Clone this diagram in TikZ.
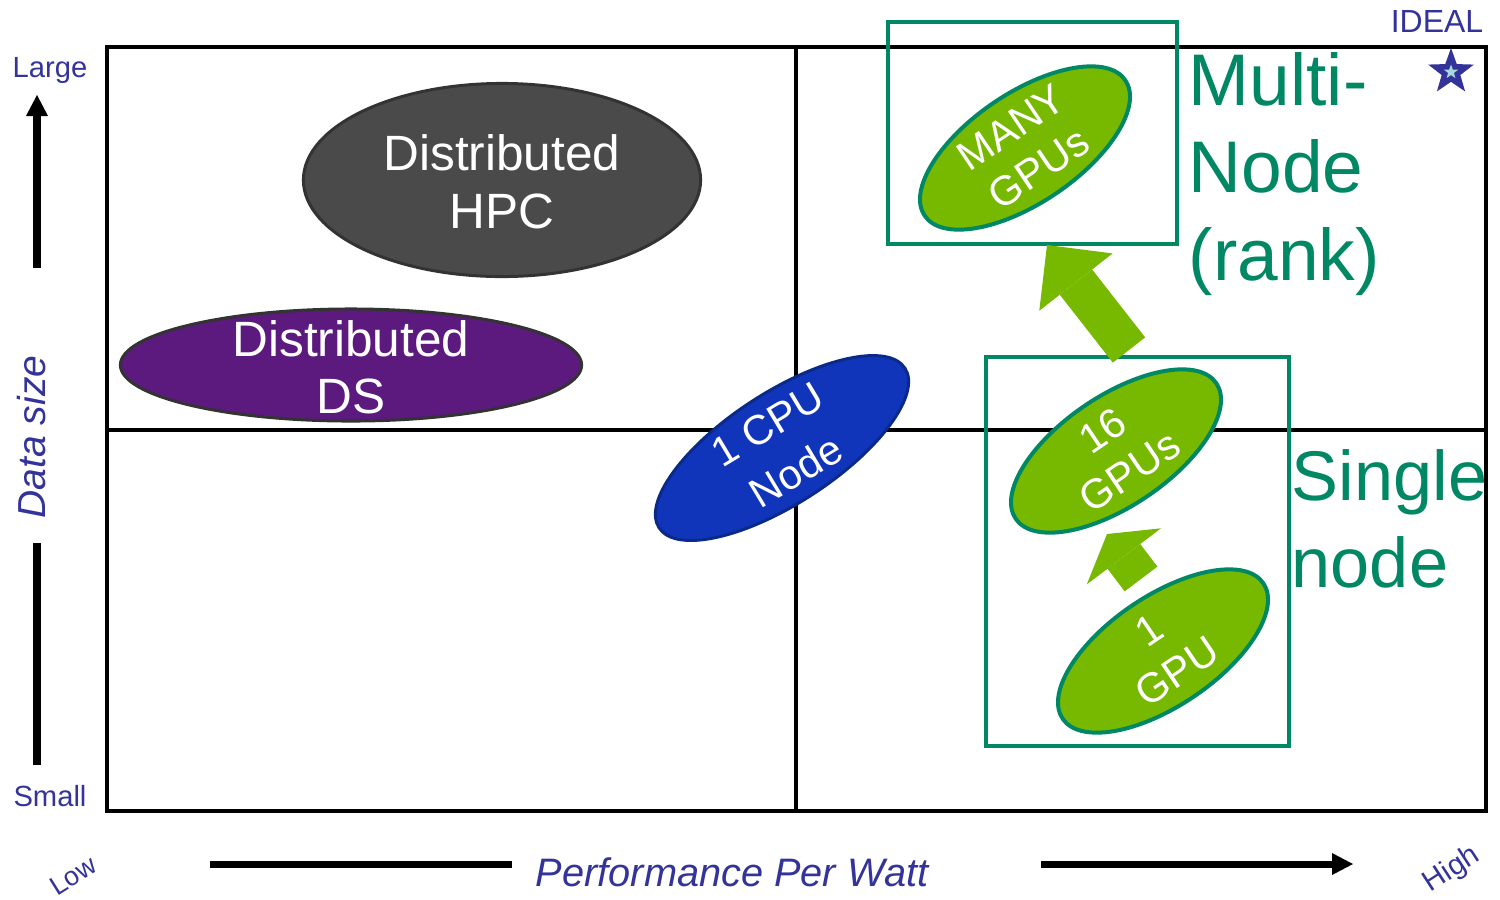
\documentclass[tikz,border=0pt]{standalone}
\usepackage{fontspec}
\setmainfont{Liberation Sans}
\usepackage{xcolor}
\usepackage{tikz}
\usetikzlibrary{arrows.meta, shapes.geometric, positioning}

\definecolor{axisblue}{HTML}{333399}
\definecolor{nvteal}{HTML}{008764}
\definecolor{nvgreen}{HTML}{76B900}
\definecolor{hpcgray}{HTML}{4A4A4A}
\definecolor{blobedge}{HTML}{333333}
\definecolor{dspurple}{HTML}{5C1A7E}
\definecolor{cpublue}{HTML}{1035BB}
\definecolor{cpuedge}{HTML}{0A2A8A}
\definecolor{starcore}{HTML}{A8D8DC}

\begin{document}
\begin{tikzpicture}[
  x=0.01cm, y=-0.01cm,
  frame/.style={line width=0.04cm},
  axarrow/.style={line width=0.07cm, -{Triangle[width=0.22cm, length=0.21cm, line width=0pt]}},
  axlbl/.style={text=axisblue, inner sep=0pt},
  blob/.style={ellipse, draw, line width=0.03cm, inner sep=0pt},
  blobtxt/.style={text=white, align=center, inner sep=0pt},
  gpu/.style={blob, fill=nvgreen, draw=nvteal, line width=0.04cm,
              minimum width=2.42cm, minimum height=1.1cm, rotate=34},
  grp/.style={draw=nvteal, line width=0.035cm, inner sep=0pt},
  bigtxt/.style={text=nvteal, align=left, inner sep=0pt, anchor=west},
  fat/.style={draw=nvgreen, line width=0.41cm},
  pentstar/.style={star, star points=5, star point ratio=2.45, inner sep=0pt}
]
\useasboundingbox (0,0) rectangle (1500,899);

\draw[frame] (107,47) rectangle (1486,811);
\draw[frame] (796,47) -- (796,811);
\draw[frame] (107,430) -- (1486,430);

\node[axlbl, font=\fontsize{8.3}{10}\selectfont] (large) at (50,70) {Large};
\node[axlbl, font=\fontsize{8.3}{10}\selectfont] (small) at (50,796) {Small};
\node[axlbl, font=\fontsize{11.1}{13}\selectfont\itshape, rotate=90] (datasize) at (32,437) {Data size};
\node[axlbl, font=\fontsize{11.3}{13}\selectfont\itshape] (ppw) at (732,872) {Performance Per Watt};
\node[axlbl, font=\fontsize{7.6}{9}\selectfont, rotate=32] (low) at (73,876) {Low};
\node[axlbl, font=\fontsize{8.3}{10}\selectfont, rotate=33] (high) at (1452,870) {High};
\node[axlbl, font=\fontsize{9.1}{11}\selectfont] (ideal) at (1437,21) {IDEAL};

\coordinate (yup0) at (37,268);   \coordinate (yup1) at (37,95);
\coordinate (ydn0) at (37,543);   \coordinate (ydn1) at (37,765);
\coordinate (xlo0) at (210,864);  \coordinate (xlo1) at (512,864);
\coordinate (xhi0) at (1041,864); \coordinate (xhi1) at (1353,864);
\draw[axarrow] (yup0) -- (yup1);
\draw[line width=0.07cm] (ydn0) -- (ydn1);
\draw[line width=0.07cm] (xlo0) -- (xlo1);
\draw[axarrow] (xhi0) -- (xhi1);

\node[pentstar, fill=axisblue, minimum size=0.48cm] (idealstar) at (1451,72) {};
\node[pentstar, fill=starcore, minimum size=0.15cm] (idealcore) at (idealstar) {};

\node[blob, fill=hpcgray, draw=blobedge, minimum width=3.97cm, minimum height=1.93cm] (hpc) at (502,180) {};
\node[blobtxt, font=\fontsize{14.1}{16.5}\selectfont] (hpctxt) at (502,182) {Distributed\\HPC};
\node[blob, fill=dspurple, draw=blobedge, minimum width=4.61cm, minimum height=1.12cm] (ds) at (351,365) {};
\node[blobtxt, font=\fontsize{14.1}{16.2}\selectfont] (dstxt) at (351,367) {Distributed\\DS};
\node[blob, fill=cpublue, draw=cpuedge, minimum width=2.93cm, minimum height=1.11cm, rotate=33] (cpu) at (782,448) {};
\node[blobtxt, font=\fontsize{11.8}{15.5}\selectfont, rotate=31] (cputxt) at (cpu) {1 CPU\\Node};

\foreach \nm/\px/\py/\txt in {many/1025/148/{MANY\\GPUs}, sixteen/1116/451/{16\\GPUs}, onegpu/1163/651/{1\\GPU}}{
  \node[gpu] (\nm) at (\px,\py) {};
  \node[blobtxt, font=\fontsize{11.8}{14}\selectfont, rotate=34] (\nm-txt) at (\nm) {\txt};
}

\node[grp, minimum width=2.89cm, minimum height=2.22cm] (multibox) at (1032.5,133) {};
\node[grp, minimum width=3.03cm, minimum height=3.89cm] (singlebox) at (1137.5,551.5) {};

\node[bigtxt, font=\fontsize{20.8}{25}\selectfont] (multi) at (1188,174) {Multi-\\Node\\(rank)};
\node[bigtxt, font=\fontsize{20}{24.8}\selectfont] (single) at (1291,519) {Single\\node};

\coordinate (bigtail) at (1129,350);   \coordinate (bigtip) at (1047,245);
\coordinate (smalltail) at (1141,579); \coordinate (smalltip) at (1107,534);
\draw[fat, -{Triangle[width=0.93cm, length=0.47cm, line width=0pt]}] (bigtail) -- (bigtip);
\draw[fat, -{Triangle[width=0.93cm, length=0.28cm, line width=0pt]}] (smalltail) -- (smalltip);

\end{tikzpicture}
\end{document}
